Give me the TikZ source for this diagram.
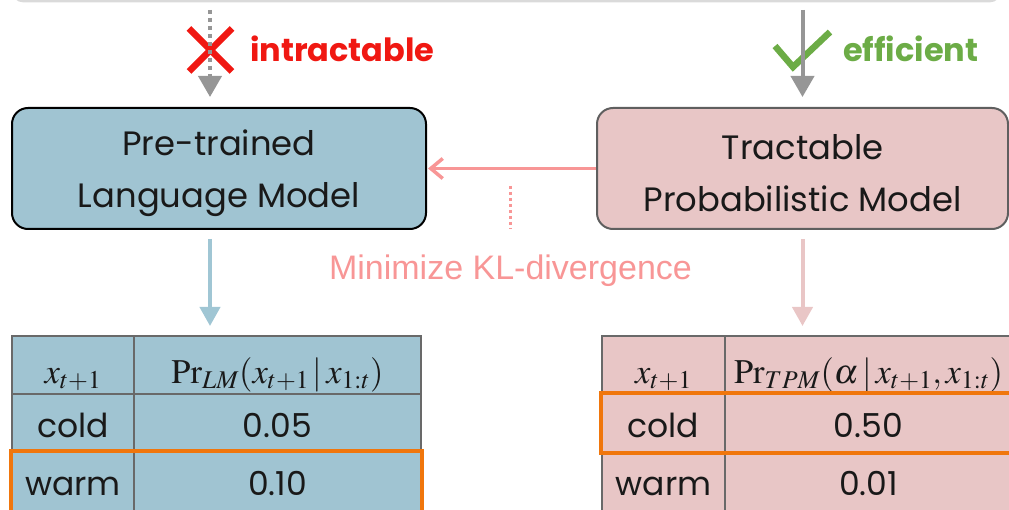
\documentclass[tikz,border=0pt]{standalone}
\usepackage{mathptmx}
\usepackage[no-math]{fontspec}
\setmainfont{Poppins}
\newfontfamily\arialf{Liberation Sans}
\usetikzlibrary{arrows.meta,fit}
\definecolor{lmblue}{RGB}{160,196,210}
\definecolor{tpmpink}{RGB}{232,198,198}
\definecolor{klpink}{RGB}{248,150,150}
\definecolor{lbarrow}{RGB}{160,198,212}
\definecolor{lparrow}{RGB}{233,198,198}
\definecolor{arrgrey}{RGB}{150,150,150}
\definecolor{xred}{RGB}{240,24,18}
\definecolor{okgreen}{RGB}{108,172,70}
\definecolor{hlorange}{RGB}{240,118,12}
\definecolor{cellgrey}{RGB}{105,105,105}
\definecolor{tpmborder}{RGB}{95,95,95}
\definecolor{framegrey}{RGB}{218,218,218}
\definecolor{txtblack}{RGB}{25,25,25}
\begin{document}
\begin{tikzpicture}[x=1pt,y=-1pt,
  modelbox/.style={rounded corners=16pt, line width=2pt, minimum width=#1,
    minimum height=121pt, inner sep=0pt},
  boxtext/.style={align=center, inner sep=0pt, text=txtblack,
    font=\fontsize{33.8}{52}\selectfont},
  cell/.style={draw=cellgrey, line width=2pt, inner sep=0pt, text=txtblack,
    font=\fontsize{33}{33}\selectfont},
  hdr/.style={minimum height=58pt, text height=40pt, text depth=4pt,
    font=\fontsize{34.5}{34.5}\selectfont},
  rowtwo/.style={minimum height=58pt, text height=36pt, text depth=8pt},
  rowthree/.style={minimum height=80pt, text height=36pt, text depth=30pt},
  hl/.style={draw=hlorange, line width=4pt, inner sep=0pt},
  greytip/.style={-{Triangle[length=21pt,width=23pt]}},
  downtip/.style={-{Triangle[length=19pt,width=20pt]}},
  toplabel/.style={anchor=base west, inner sep=0pt,
    font=\bfseries\fontsize{32}{32}\selectfont},
]
\useasboundingbox (0,0) rectangle (1009,510);

% frame of the box above (cut off)
\draw[framegrey, line width=3pt, rounded corners=12pt] (12,-60) rectangle (1001,1);

% model boxes
\node[modelbox=414pt, draw=black, fill=lmblue] (lm) at (219,168.5) {};
\node[boxtext] (lmt) at ([yshift=-5pt]lm.center) {Pre-trained\\Language Model};
\node[modelbox=411pt, draw=tpmborder, fill=tpmpink] (tpm) at (802.5,168.5) {};
\node[boxtext] (tpmt) at ([yshift=-5pt]tpm.center) {Tractable\\Probabilistic Model};

% top labels and marks
\node[toplabel, text=xred] (intr) at (250,62) {intractable};
\node[toplabel, text=okgreen] (eff) at (843,62) {efficient};
\coordinate (xc) at (210.5,50);
\draw[xred, line width=6.5pt] (xc) ++(-21.5,-21.5) -- ++(43,43);
\draw[xred, line width=6.5pt] (xc) ++(-21.5,21.5) -- ++(43,-43);
\coordinate (ck) at (793,67);
\draw[okgreen, line width=6.5pt] (ck) ++(-18,-21) -- (ck) -- ++(37,-35);

\coordinate (lsrc) at (210,10);
\coordinate (rsrc) at (802.5,10);
\draw[arrgrey, line width=4pt, dash pattern=on 4pt off 4pt, greytip,
  shorten >=10pt] (lsrc) -- (lm.north -| lsrc);
\draw[arrgrey, line width=4pt, greytip, shorten >=10pt]
  (rsrc) -- (tpm.north -| rsrc);

% KL arrow
\draw[klpink, line width=3.5pt, -{Straight Barb[length=12pt,width=20pt]},
  shorten >=1pt] (tpm.west) -- (lm.east);
\coordinate (kla) at (510.5,186);
\coordinate (klb) at (510.5,229);
\draw[klpink, line width=3pt, dash pattern=on 3pt off 3pt] (kla) -- (klb);
\node[anchor=base, inner sep=0pt, text=klpink,
  font=\arialf\fontsize{34}{34}\selectfont] (kl) at (510.5,280)
  {Minimize KL-divergence};

% left table
\begin{scope}[every node/.append style={fill=lmblue}]
\node[cell, hdr, minimum width=122pt] (l11) at (73,365) {$x_{t+1}$};
\node[cell, hdr, minimum width=287pt] (l12) at (277.5,365)
  {$\Pr_{LM}(x_{t+1}\,|\,x_{1:t})$};
\node[cell, rowtwo, minimum width=122pt] (l21) at (73,423) {cold};
\node[cell, rowtwo, minimum width=287pt] (l22) at (277.5,423) {0.05};
\node[cell, rowthree, minimum width=122pt] (l31) at (73,492) {warm};
\node[cell, rowthree, minimum width=287pt] (l32) at (277.5,492) {0.10};
\end{scope}
\node[hl, fit=(l31)(l32)] (lhl) {};

% right table
\begin{scope}[every node/.append style={fill=tpmpink}]
\node[cell, hdr, minimum width=123pt] (r11) at (663.5,365) {$x_{t+1}$};
\node[cell, hdr, minimum width=287pt] (r12) at (868.5,365)
  {$\Pr_{TPM}(\alpha\,|\,x_{t+1},x_{1:t})$};
\node[cell, rowtwo, minimum width=123pt] (r21) at (663.5,423) {cold};
\node[cell, rowtwo, minimum width=287pt] (r22) at (868.5,423) {0.50};
\node[cell, rowthree, minimum width=123pt] (r31) at (663.5,492) {warm};
\node[cell, rowthree, minimum width=287pt] (r32) at (868.5,492) {0.01};
\end{scope}
\node[hl, fit=(r21)(r22)] (rhl) {};

% down arrows
\draw[lbarrow, line width=4pt, downtip, shorten <=9pt, shorten >=9pt]
  (lm.south -| lsrc) -- (l11.north -| lsrc);
\draw[lparrow, line width=4pt, downtip, shorten <=9pt, shorten >=9pt]
  (tpm.south -| rsrc) -- (r11.north -| rsrc);
\end{tikzpicture}
\end{document}
